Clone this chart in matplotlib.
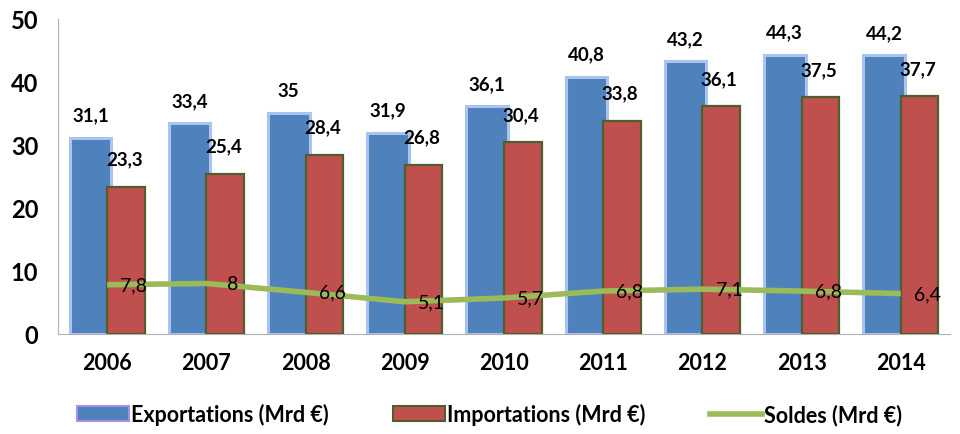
import numpy as np
import matplotlib.pyplot as plt
from matplotlib.patches import Patch
from matplotlib.lines import Line2D

plt.rcParams['font.family'] = ['Lato', 'DejaVu Sans']

years = ["2006", "2007", "2008", "2009", "2010", "2011", "2012", "2013", "2014"]
exportations = [31.1, 33.4, 35, 31.9, 36.1, 40.8, 43.2, 44.3, 44.2]
importations = [23.3, 25.4, 28.4, 26.8, 30.4, 33.8, 36.1, 37.5, 37.7]
soldes = [7.8, 8, 6.6, 5.1, 5.7, 6.8, 7.1, 6.8, 6.4]


def fmt(v):
    # french decimal comma
    s = ("%g" % v)
    return s.replace(".", ",")


x = np.arange(len(years))

fig = plt.figure(figsize=(9.6, 4.35), dpi=100)
ax = fig.add_axes([0.06, 0.23, 0.93, 0.725])

blue = "#4F81BD"
red = "#C0504D"
green = "#9BBB59"

ax.bar(x - 0.17, exportations, width=0.42, color=blue,
       edgecolor="#A9C4EE", linewidth=2.2, zorder=2)
ax.bar(x + 0.19, importations, width=0.38, color=red,
       edgecolor="#4E5F2E", linewidth=1.6, zorder=3)
ax.plot(x, soldes, color=green, linewidth=4, zorder=4,
        solid_capstyle="butt")

for i in range(len(years)):
    ax.text(x[i] - 0.17, exportations[i] + 3.6, fmt(exportations[i]),
            ha="center", va="center", fontsize=13.5, fontweight="bold", zorder=5)
    ax.text(x[i] + 0.17, importations[i] + 4.4, fmt(importations[i]),
            ha="center", va="center", fontsize=13.5, fontweight="bold", zorder=5)
    ax.text(x[i] + 0.27, soldes[i], fmt(soldes[i]),
            ha="center", va="center", fontsize=14, zorder=5)

ax.set_xlim(-0.5, len(years) - 0.5)
ax.set_ylim(0, 50)
ax.set_yticks(np.arange(0, 51, 10))
ax.set_xticks(x)
ax.set_xticklabels(years)
ax.tick_params(axis="y", length=0, pad=14, labelsize=17)
ax.tick_params(axis="x", length=0, pad=13, labelsize=15.5)
for lab in ax.get_yticklabels() + ax.get_xticklabels():
    lab.set_fontweight("bold")

for side in ["top", "right"]:
    ax.spines[side].set_visible(False)
ax.spines["left"].set_color("#B0B0B0")
ax.spines["bottom"].set_color("#B0B0B0")

handles = [
    Patch(facecolor=blue, edgecolor="#A98EE8", linewidth=1.5),
    Patch(facecolor=red, edgecolor="#4E5F2E", linewidth=1.5),
    Line2D([0], [0], color=green, linewidth=4),
]
labels = ["Exportations (Mrd €)", "Importations (Mrd €)", "Soldes (Mrd €)"]
fig.legend(handles, labels, loc="center", bbox_to_anchor=(0.51, 0.045),
           ncol=3, frameon=False, handlelength=2.4,
           handletextpad=0.1, columnspacing=3.0,
           prop={"weight": "bold", "size": 15.5})

fig.savefig("out.png", dpi=100)
